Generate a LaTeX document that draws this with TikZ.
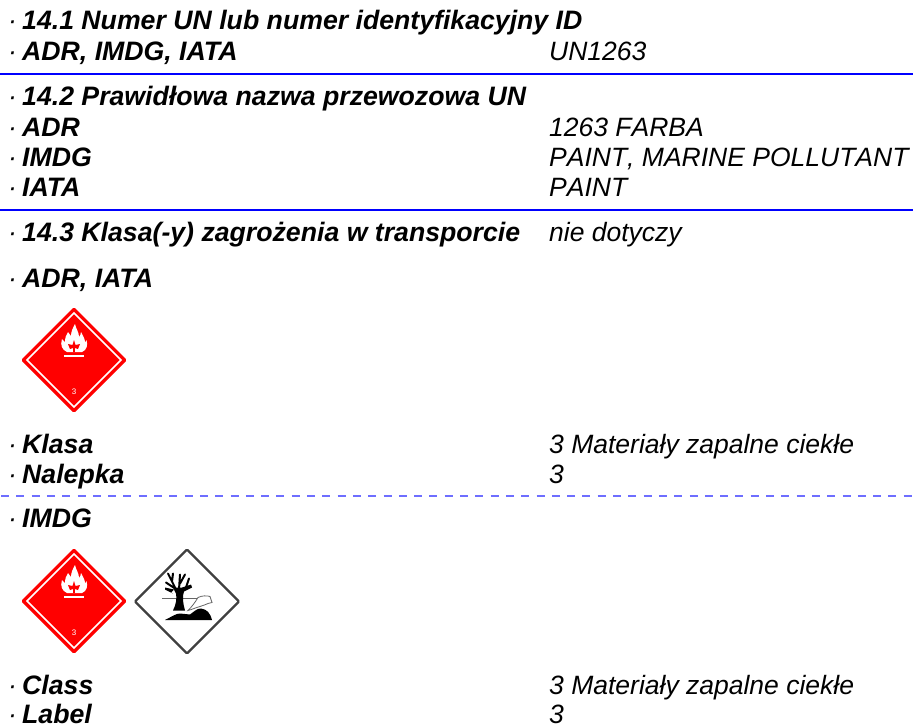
\documentclass[tikz,border=0pt]{standalone}
\usepackage{fontspec}
\setmainfont{Liberation Sans}
\definecolor{hazred}{RGB}{255,0,0}
\definecolor{rulecol}{RGB}{0,0,255}
\definecolor{dashcol}{RGB}{110,110,255}
\newcommand{\dt}{\makebox[14pt][l]{\mdseries ·}}
\tikzset{
 x=1pt,y=-1pt,
 lbl/.style={anchor=base west,inner sep=0pt,font=\fontsize{26.67}{30}\selectfont\bfseries\itshape},
 val/.style={anchor=base west,inner sep=0pt,font=\fontsize{26.5}{30}\selectfont\itshape\addfontfeatures{Kerning=Off}},
 sep/.style={rulecol,line width=2pt},
 dsep/.style={dashcol,line width=1.2pt,dash pattern=on 8pt off 7.3pt},
}
\newcommand{\flamesign}[2]{%
 \begin{scope}[shift={(#1,#2)}]
  \fill[hazred,rounded corners=1.5pt] (0,-53)--(53,0)--(0,53)--(-53,0)--cycle;
  \draw[white,line width=1.5pt] (0,-47)--(47,0)--(0,47)--(-47,0)--cycle;
  \fill[white] (1,-36) .. controls (2,-31) and (5,-28) .. (5,-23)
    .. controls (6,-24) and (7,-26) .. (7,-28)
    .. controls (9,-24) and (11,-21) .. (11,-18)
    .. controls (12,-18) and (12,-19) .. (12.5,-20)
    .. controls (14,-15) and (13,-10) .. (8,-8)
    -- (-7,-8)
    .. controls (-12,-10) and (-14,-15) .. (-12,-21)
    .. controls (-11,-20) and (-10,-19) .. (-9,-18)
    .. controls (-9,-22) and (-8,-25) .. (-6,-28)
    .. controls (-5,-27) and (-4,-25) .. (-3,-24)
    .. controls (-3,-29) and (-1,-32) .. (1,-36) -- cycle;
  \fill[hazred] (0,-20) -- (1.5,-15) -- (6,-16) -- (4,-11) -- (1,-12) -- (.8,-8) -- (-.8,-8) -- (-1,-12) -- (-4,-11) -- (-6,-16) -- (-1.5,-15) -- cycle;
  \fill[white] (-10,-5) rectangle (10,-3.5);
  \node[white,inner sep=0pt,font=\fontsize{8}{8}\selectfont] (three) at (0,32) {3};
 \end{scope}}
\newcommand{\treesign}[2]{%
 \begin{scope}[shift={(#1,#2)}]
  \draw[black!75,fill=white,line width=2.3pt,rounded corners=1pt] (0,-52)--(52,0)--(0,52)--(-52,0)--cycle;
  % horizon
  \draw[black!60,line width=.7pt] (-25,-3)--(10,-3);
  % tree trunk
  \fill[black] (-14,9) .. controls (-11,3) and (-10,-3) .. (-11,-8)
    -- (-13,-12) -- (-22,-14) -- (-22,-12) -- (-14,-8)  -- (-16,-9) -- (-11,-14) -- (-5,-14)
    -- (4,-17) -- (5,-14) -- (-3,-10) .. controls (-5,-5) and (-4,2) .. (-2,9) -- cycle;
  \draw[black,line width=2pt,line cap=round] (-11,-12) -- (-15,-20) -- (-19,-28)
    (-15,-20) -- (-14,-28) (-8,-12) -- (-7,-27) (-7,-18) -- (-2,-27) (-1,-14) -- (2,-23) (-12,-13) -- (-21,-19);
  % ground
  \fill[black] (-22,18.5) .. controls (-15,15) and (-11,12) .. (-7,12) -- (3,13)
    .. controls (7,10) and (10,7) .. (14,7) .. controls (20,8) and (23,11) .. (25,18.5) -- cycle;
  % carcass
  \draw[black!60,fill=white,line width=.8pt] (1,9) .. controls (5,5) and (8,1) .. (11,-4)
    .. controls (15,-6) and (20,-6) .. (23,-5) -- (25,1) -- (21,2)
    .. controls (19,4) and (16,3) .. (13,5) .. controls (9,6) and (5,8) .. (1,9) -- cycle;
 \end{scope}}
\begin{document}
\begin{tikzpicture}
\useasboundingbox (0,0) rectangle (913,725);
\node[lbl] (a1) at (8,30) {\dt 14.1 Numer UN lub numer identyfikacyjny ID};
\node[lbl] (a2) at (8,60.5) {\dt ADR, IMDG, IATA};
\node[val] (a3) at (549,60.5) {UN1263};
\draw[sep] (0,74)--(913,74);
\node[lbl] (b1) at (8,105) {\dt 14.2 Prawidłowa nazwa przewozowa UN};
\node[lbl] (b2) at (8,136) {\dt ADR};
\node[val] (b3) at (549,136) {1263 FARBA};
\node[lbl] (b4) at (8,166) {\dt IMDG};
\node[val] (b5) at (549,166) {PAINT, MARINE POLLUTANT};
\node[lbl] (b6) at (8,196) {\dt IATA};
\node[val] (b7) at (549,196) {PAINT};
\draw[sep] (0,210)--(913,210);
\node[lbl] (c1) at (8,241.5) {\dt 14.3 Klasa(-y) zagrożenia w transporcie};
\node[val] (c2) at (549,241.5) {nie dotyczy};
\node[lbl] (c3) at (8,287) {\dt ADR, IATA};
\flamesign{74}{360}
\node[lbl] (c4) at (8,453) {\dt Klasa};
\node[val] (c5) at (549,453) {3 Materiały zapalne ciekłe};
\node[lbl] (c6) at (8,483) {\dt Nalepka};
\node[val] (c7) at (549,483) {3};
\draw[dsep] (1,496)--(913,496);
\node[lbl] (d1) at (8,527) {\dt IMDG};
\flamesign{74}{601}
\treesign{187}{601.5}
\node[lbl] (d2) at (8,694) {\dt Class};
\node[val] (d3) at (549,694) {3 Materiały zapalne ciekłe};
\node[lbl] (d4) at (8,723.5) {\dt Label};
\node[val] (d5) at (549,723.5) {3};
\end{tikzpicture}
\end{document}
